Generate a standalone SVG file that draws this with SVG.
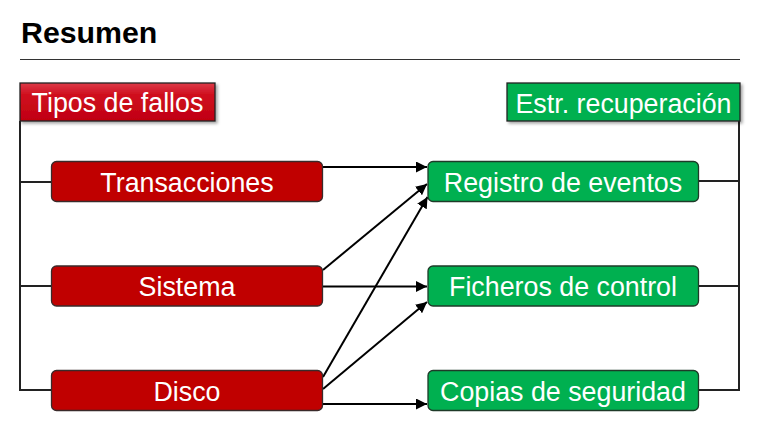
<svg xmlns="http://www.w3.org/2000/svg" width="760" height="436" viewBox="0 0 760 436">
<style>
text{font-family:"Liberation Sans",Arial,sans-serif;}
.title{font-size:30.3px;font-weight:bold;fill:#000;}
.lbl{font-size:26.8px;fill:#fff;text-anchor:middle;}
.red{fill:#c00000;stroke:#3a2a2a;stroke-width:1.3;}
.green{fill:#00b050;stroke:#1e3a28;stroke-width:1.3;}
.hdr{stroke:#222;stroke-width:1.3;}
.br{fill:none;stroke:#222;stroke-width:2;}
.arr{fill:none;stroke:#000;stroke-width:2;marker-end:url(#ah);}
</style>
<defs>
<marker id="ah" viewBox="0 0 10 10" refX="10" refY="5" markerWidth="5.5" markerHeight="5.5" markerUnits="strokeWidth" orient="auto">
<path d="M0,0 L10,5 L0,10 z" fill="#000"/>
</marker>
<linearGradient id="rg" x1="0" y1="0" x2="0" y2="1">
<stop offset="0" stop-color="#dc3a48"/>
<stop offset="0.3" stop-color="#d0101f"/>
<stop offset="1" stop-color="#c00010"/>
</linearGradient>
<filter id="sh" x="-10%" y="-10%" width="130%" height="140%">
<feDropShadow dx="2" dy="2" stdDeviation="1.5" flood-color="#000" flood-opacity="0.35"/>
</filter>
</defs>
<text class="title" x="21" y="43.3">Resumen</text>
<line x1="20" y1="59.5" x2="740" y2="59.5" stroke="#333" stroke-width="1.2"/>

<g id="connectors">
<path class="br" d="M20,121 V390 H52 M20,182 H52 M20,286 H52"/>
<path class="br" d="M739,121 V390 H698 M739,181 H698 M739,286 H698"/>
<line class="arr" x1="322" y1="167" x2="427" y2="167"/>
<line class="arr" x1="323" y1="270" x2="427" y2="184"/>
<line class="arr" x1="323" y1="377" x2="427.5" y2="197"/>
<line class="arr" x1="322" y1="286.5" x2="427" y2="286.5"/>
<line class="arr" x1="323" y1="389" x2="427" y2="302"/>
<line class="arr" x1="322" y1="404" x2="427" y2="404"/>
</g>

<g id="tipos-de-fallos">
<rect class="hdr" x="20" y="83" width="195" height="38" fill="url(#rg)" filter="url(#sh)"/>
<text class="lbl" x="117.5" y="112.3">Tipos de fallos</text>
</g>
<g id="estr-recuperacion">
<rect class="hdr" x="507" y="83" width="233" height="38" fill="#00b050" filter="url(#sh)"/>
<text class="lbl" x="623.5" y="113.3">Estr. recuperación</text>
</g>

<g id="transacciones">
<rect class="red" x="51.5" y="161.5" width="271" height="40" rx="5"/>
<text class="lbl" x="187" y="191.5">Transacciones</text>
</g>
<g id="sistema">
<rect class="red" x="51.5" y="266" width="271" height="40" rx="5"/>
<text class="lbl" x="187" y="296">Sistema</text>
</g>
<g id="disco">
<rect class="red" x="51.5" y="370.5" width="271" height="40" rx="5"/>
<text class="lbl" x="187" y="400.5">Disco</text>
</g>

<g id="registro-de-eventos">
<rect class="green" x="428" y="161.5" width="270.5" height="40" rx="5"/>
<text class="lbl" x="563" y="191.5">Registro de eventos</text>
</g>
<g id="ficheros-de-control">
<rect class="green" x="428" y="266" width="270.5" height="40" rx="5"/>
<text class="lbl" x="563" y="296">Ficheros de control</text>
</g>
<g id="copias-de-seguridad">
<rect class="green" x="428" y="370.5" width="270.5" height="40" rx="5"/>
<text class="lbl" x="563" y="400.5">Copias de seguridad</text>
</g>
</svg>
